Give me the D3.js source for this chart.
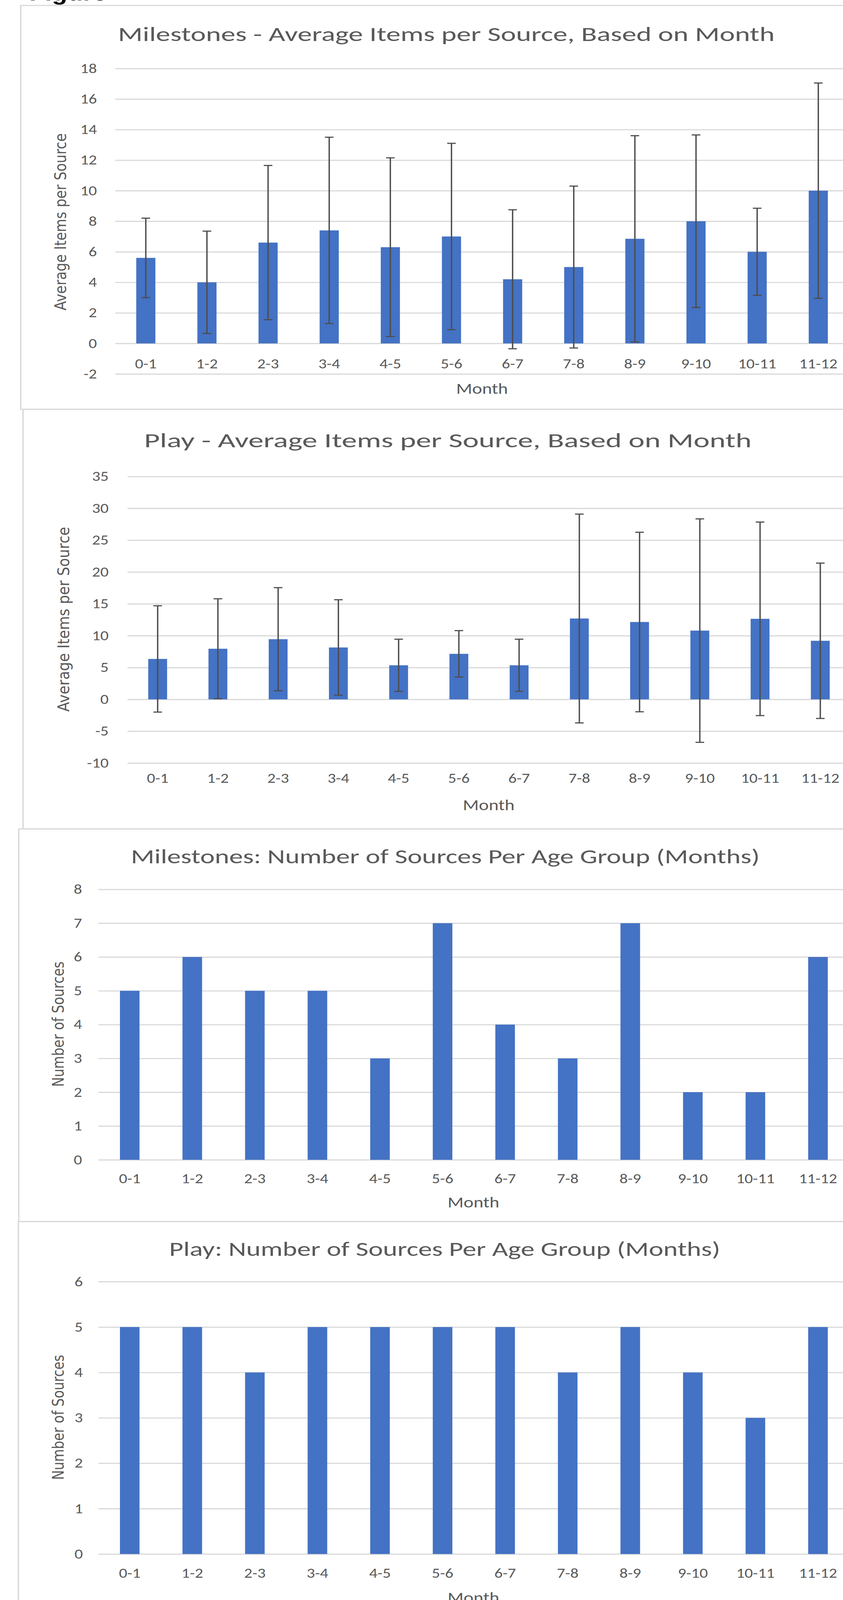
<!DOCTYPE html>
<html>
<head>
<meta charset="utf-8">
<script src="https://cdn.jsdelivr.net/npm/d3@7"></script>
<style>
  html, body { margin: 0; padding: 0; background: #fff; overflow: hidden; }
  svg { display: block; width: 100vw; height: 100vh; }
</style>
</head>
<body>
<svg viewBox="0 0 2158 4976" preserveAspectRatio="none"></svg>
<script>
  const months = ["0-1", "1-2", "2-3", "3-4", "4-5", "5-6", "6-7", "7-8", "8-9", "9-10", "10-11", "11-12"];

  // average items per source (bar) and its error bar (+/-)
  const milestoneMeans = [5.6, 4.0, 6.6, 7.4, 6.3, 7.0, 4.2, 5.0, 6.85, 8.0, 6.0, 10.0];
  const milestoneErr   = [2.6, 3.35, 5.05, 6.1, 5.85, 6.1, 4.55, 5.3, 6.75, 5.65, 2.85, 7.05];

  const playMeans = [6.35, 7.95, 9.45, 8.15, 5.35, 7.15, 5.35, 12.7, 12.15, 10.8, 12.65, 9.2];
  const playErr   = [8.35, 7.85, 8.1, 7.5, 4.1, 3.65, 4.1, 16.4, 14.1, 17.55, 15.2, 12.2];

  // number of sources per age group
  const milestoneSources = [5, 6, 5, 5, 3, 7, 4, 3, 7, 2, 2, 6];
  const playSources      = [5, 5, 4, 5, 5, 5, 5, 4, 5, 4, 3, 5];

  const milestoneAvgTicks = [-2, 0, 2, 4, 6, 8, 10, 12, 14, 16, 18];
  const playAvgTicks      = [-10, -5, 0, 5, 10, 15, 20, 25, 30, 35];
  const milestoneSrcTicks = [0, 1, 2, 3, 4, 5, 6, 7, 8];
  const playSrcTicks      = [0, 1, 2, 3, 4, 5, 6];

  const svg = d3.select("svg");
  const textColor = "#595959";
  const gridColor = "#d9d9d9";
  const barColor = "#4472c4";
  const mainFont = "Carlito, Calibri, Lato, sans-serif";
  const axisTitleFont = "'DejaVu Sans', sans-serif";

  // cut-off caption from the page above the first chart
  svg.append("text")
    .attr("x", 75).attr("y", 1)
    .attr("font-family", "'Liberation Sans', Arial, sans-serif")
    .attr("font-weight", "bold")
    .attr("font-size", 65)
    .attr("fill", "#000")
    .text("Figure");

  const charts = [
    {
      title: "Milestones - Average Items per Source, Based on Month",
      yTitle: "Average Items per Source",
      values: milestoneMeans, errors: milestoneErr, ticks: milestoneAvgTicks,
      box: [53, 17, 2200, 1256],
      left: 295, right: 2173, top: 213, bottom: 1163,
      labelRight: 248, xLabelBase: 1145,
      titleX: 302, titleY: 128, titleLen: 1681,
      monthX: 1234, monthY: 1225,
      yTitleX: 169, yTitleY: 690, yTitleLen: 551
    },
    {
      title: "Play - Average Items per Source, Based on Month",
      yTitle: "Average Items per Source",
      values: playMeans, errors: playErr, ticks: playAvgTicks,
      box: [59, 1273, 2200, 1305],
      left: 326.5, right: 2177, top: 1482, bottom: 2373,
      labelRight: 278, xLabelBase: 2435,
      titleX: 369, titleY: 1391, titleLen: 1555,
      monthX: 1251, monthY: 2519,
      yTitleX: 177, yTitleY: 1926, yTitleLen: 575
    },
    {
      title: "Milestones: Number of Sources Per Age Group (Months)",
      yTitle: "Number of Sources",
      values: milestoneSources, errors: null, ticks: milestoneSrcTicks,
      box: [48, 2578, 2200, 1221],
      left: 252, right: 2174, top: 2766, bottom: 3607,
      labelRight: 210, xLabelBase: 3680,
      titleX: 335, titleY: 2685, titleLen: 1610,
      monthX: 1212, monthY: 3755,
      yTitleX: 163, yTitleY: 3185, yTitleLen: 390
    },
    {
      title: "Play: Number of Sources Per Age Group (Months)",
      yTitle: "Number of Sources",
      values: playSources, errors: null, ticks: playSrcTicks,
      box: [47, 3799, 2200, 1300],
      left: 252, right: 2174, top: 3986, bottom: 4833,
      labelRight: 212, xLabelBase: 4907,
      titleX: 433, titleY: 3906, titleLen: 1411,
      monthX: 1212, monthY: 4984,
      yTitleX: 163, yTitleY: 4408, yTitleLen: 389
    }
  ];

  function drawChart(c) {
    const g = svg.append("g");

    g.append("rect")
      .attr("x", c.box[0]).attr("y", c.box[1])
      .attr("width", c.box[2]).attr("height", c.box[3])
      .attr("fill", "none")
      .attr("stroke", gridColor)
      .attr("stroke-width", 3.5);

    const gap = 0.687;
    const x = d3.scaleBand()
      .domain(months)
      .range([c.left, c.right])
      .paddingInner(gap)
      .paddingOuter(gap / 2);

    const y = d3.scaleLinear()
      .domain([c.ticks[0], c.ticks[c.ticks.length - 1]])
      .range([c.bottom, c.top]);

    // value axis + gridlines
    g.append("g")
      .attr("transform", `translate(${c.left},0)`)
      .call(d3.axisLeft(y)
        .tickValues(c.ticks)
        .tickSize(-(c.right - c.left))
        .tickPadding(c.left - c.labelRight)
        .tickFormat(d => String(d)))
      .attr("font-family", mainFont)
      .attr("font-size", 42)
      .call(a => a.select(".domain").remove())
      .call(a => a.selectAll(".tick line").attr("stroke", gridColor).attr("stroke-width", 3.5))
      .call(a => a.selectAll(".tick text").attr("fill", textColor));

    // bars
    g.selectAll("rect.bar")
      .data(c.values)
      .join("rect")
      .attr("class", "bar")
      .attr("x", (d, i) => x(months[i]))
      .attr("width", x.bandwidth())
      .attr("y", d => y(Math.max(0, d)))
      .attr("height", d => Math.abs(y(d) - y(0)))
      .attr("fill", barColor);

    // error bars
    if (c.errors) {
      const cx = i => x(months[i]) + x.bandwidth() / 2;
      const capW = 11;
      const eb = g.selectAll("g.err")
        .data(c.values.map((v, i) => ({ i, lo: v - c.errors[i], hi: v + c.errors[i] })))
        .join("g")
        .attr("class", "err")
        .attr("stroke", "#4d4d4d")
        .attr("stroke-width", 3.5);
      eb.append("line")
        .attr("x1", d => cx(d.i)).attr("x2", d => cx(d.i))
        .attr("y1", d => y(d.lo)).attr("y2", d => y(d.hi));
      eb.append("line")
        .attr("x1", d => cx(d.i) - capW).attr("x2", d => cx(d.i) + capW)
        .attr("y1", d => y(d.hi)).attr("y2", d => y(d.hi));
      eb.append("line")
        .attr("x1", d => cx(d.i) - capW).attr("x2", d => cx(d.i) + capW)
        .attr("y1", d => y(d.lo)).attr("y2", d => y(d.lo));
    }

    // category axis labels
    g.append("g")
      .attr("transform", `translate(0,${y(0)})`)
      .call(d3.axisBottom(x).tickSize(0).tickPadding(0))
      .attr("font-family", mainFont)
      .attr("font-size", 42)
      .call(a => a.select(".domain").remove())
      .call(a => a.selectAll(".tick text")
        .attr("y", c.xLabelBase - y(0))
        .attr("dy", null)
        .attr("fill", textColor));

    // chart title
    g.append("text")
      .attr("x", c.titleX).attr("y", c.titleY)
      .attr("font-family", mainFont)
      .attr("font-size", 63)
      .attr("fill", textColor)
      .attr("textLength", c.titleLen)
      .attr("lengthAdjust", "spacingAndGlyphs")
      .text(c.title);

    // axis titles
    g.append("text")
      .attr("x", c.monthX).attr("y", c.monthY)
      .attr("text-anchor", "middle")
      .attr("font-family", mainFont)
      .attr("font-size", 48)
      .attr("fill", textColor)
      .text("Month");

    g.append("text")
      .attr("transform", `translate(${c.yTitleX},${c.yTitleY}) rotate(-90)`)
      .attr("text-anchor", "middle")
      .attr("font-family", axisTitleFont)
      .attr("font-size", 40)
      .attr("fill", textColor)
      .attr("textLength", c.yTitleLen)
      .attr("lengthAdjust", "spacingAndGlyphs")
      .text(c.yTitle);
  }

  charts.forEach(drawChart);
</script>
</body>
</html>
